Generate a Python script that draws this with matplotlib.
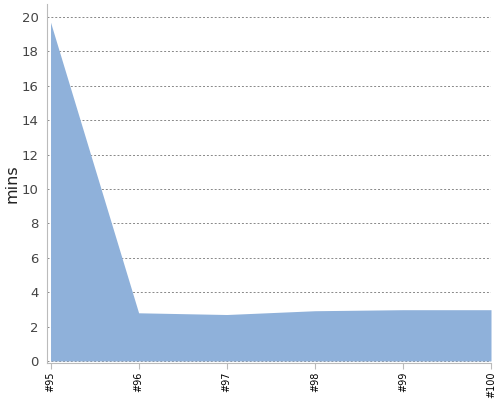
#Area chart of build durations
import matplotlib.pyplot as plt
import numpy as np

#Data
builds = ['#95', '#96', '#97', '#98', '#99', '#100']
mins = [19.7, 2.8, 2.7, 2.92, 2.98, 2.98]

fig = plt.figure(figsize=(5, 4), dpi=100)
ax = fig.add_axes([0.094, 0.0925, 0.888, 0.8975])

x = np.arange(len(builds))
ax.fill_between(x, mins, 0, color='#8fb1da', linewidth=0, zorder=2)

ax.set_xlim(-0.04, len(builds) - 1)
ax.set_ylim(-0.12, 20.76)
ax.set_xticks(x)
ax.set_xticklabels(builds, rotation=90, fontsize=7)
ax.set_yticks(np.arange(0, 21, 2))
ax.tick_params(axis='y', length=0, labelsize=9.5, labelcolor='#444444', pad=6)
ax.tick_params(axis='x', length=4, color='#bbbbbb', pad=2)

ax.grid(axis='y', linestyle=(0, (2, 2)), color='#888888', linewidth=0.7, zorder=1)
for s in ['top', 'right']:
    ax.spines[s].set_visible(False)
for s in ['left', 'bottom']:
    ax.spines[s].set_color('#bbbbbb')
ax.set_ylabel('mins', fontsize=11.5, color='#222222')
ax.yaxis.set_label_coords(-0.063, 0.5)

plt.savefig('out.png')
